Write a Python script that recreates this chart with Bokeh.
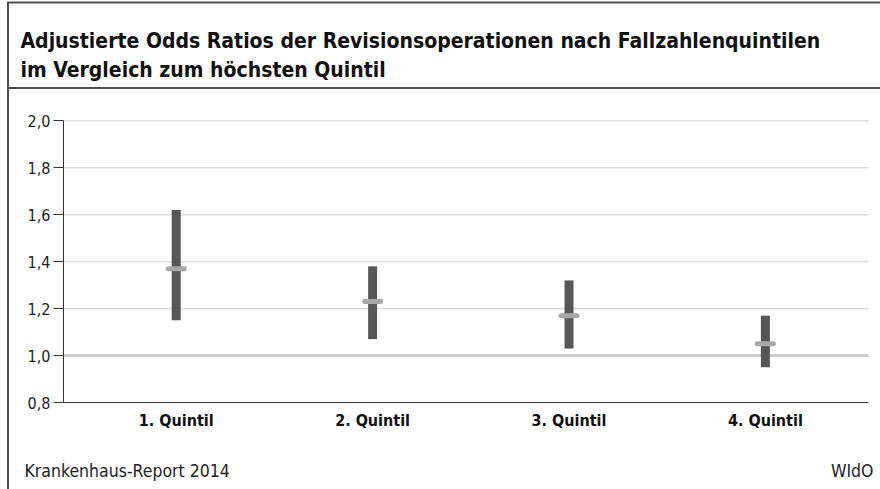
from bokeh.plotting import figure
from bokeh.models import Label, BoxAnnotation, FixedTicker, LinearAxis, Range1d
from bokeh.embed import file_html
from bokeh.resources import INLINE

# ---- data ----
categories = ["1. Quintil", "2. Quintil", "3. Quintil", "4. Quintil"]
positions = [1, 2, 3, 4]
odds_ratio = [1.37, 1.23, 1.17, 1.05]
ci_lower = [1.15, 1.07, 1.03, 0.95]
ci_upper = [1.62, 1.38, 1.32, 1.17]
y_ticks = [0.8, 1.0, 1.2, 1.4, 1.6, 1.8, 2.0]
y_tick_labels = ["0,8", "1,0", "1,2", "1,4", "1,6", "1,8", "2,0"]
reference_value = 1.0
title_lines = ["Adjustierte Odds Ratios der Revisionsoperationen nach Fallzahlenquintilen",
               "im Vergleich zum höchsten Quintil"]
source_text = "Krankenhaus-Report 2014"
publisher_text = "WIdO"

FONT = "'DejaVu Sans Condensed', 'Liberation Sans Narrow', sans-serif"
W, H = 880, 489

# the frame covers the whole canvas; the chart area is placed with axes at fixed locations
PX_X = 196.4            # pixels per category step
PX_Y = 234.75           # pixels per unit of odds ratio
X0 = 1 - 175.7 / PX_X   # data x at the left canvas edge
Y0 = 0.8 - 87 / PX_Y    # data y at the bottom canvas edge
AX_LEFT = X0 + 63 / PX_X
AX_RIGHT = X0 + 868 / PX_X
Y_MIN, Y_MAX = y_ticks[0], y_ticks[-1]

p = figure(width=W, height=H, output_backend="svg", toolbar_location=None,
           x_axis_type=None, y_axis_type=None,
           x_range=Range1d(X0, X0 + W / PX_X), y_range=Range1d(Y0, Y0 + H / PX_Y),
           min_border=0)
p.outline_line_color = None
p.background_fill_color = "white"
p.border_fill_color = "white"
p.grid.visible = False

# grid lines (drawn across the chart area only)
grid_y = [t for t in y_ticks if t not in (Y_MIN, reference_value)]
p.segment(x0=[AX_LEFT] * len(grid_y), x1=[AX_RIGHT] * len(grid_y), y0=grid_y, y1=grid_y,
          line_color="#dcdcdc", line_width=1.5)
p.segment(x0=[AX_LEFT], x1=[AX_RIGHT], y0=[reference_value], y1=[reference_value],
          line_color="#cfcfcf", line_width=3)

# axes
yaxis = LinearAxis(fixed_location=AX_LEFT, bounds=(Y_MIN, Y_MAX), ticker=FixedTicker(ticks=y_ticks))
yaxis.major_label_overrides = dict(zip(y_ticks, y_tick_labels))
yaxis.minor_tick_line_color = None
yaxis.major_tick_in = 0
yaxis.major_tick_out = 10
yaxis.major_tick_line_color = "#333333"
yaxis.axis_line_color = "#333333"
yaxis.major_label_standoff = 3
yaxis.major_label_text_font = FONT
yaxis.major_label_text_font_size = "16px"
yaxis.major_label_text_color = "#222222"
p.add_layout(yaxis, "left")

xaxis = LinearAxis(fixed_location=Y_MIN, bounds=(AX_LEFT, AX_RIGHT), ticker=FixedTicker(ticks=positions))
xaxis.major_label_overrides = dict(zip(positions, categories))
xaxis.minor_tick_line_color = None
xaxis.major_tick_line_color = None
xaxis.axis_line_color = "#333333"
xaxis.major_label_standoff = 2
xaxis.major_label_text_font = FONT
xaxis.major_label_text_font_style = "bold"
xaxis.major_label_text_font_size = "16px"
xaxis.major_label_text_color = "#111111"
p.add_layout(xaxis, "below")

# bars and markers
p.vbar(x=positions, bottom=ci_lower, top=ci_upper, width=9 / PX_X, fill_color="#575757", line_color=None)
p.scatter(x=positions, y=odds_ratio, marker="dash", size=16, line_width=5, line_cap="round",
          line_color="#a8a8a8", fill_color=None)

# frame decorations (screen units; frame == canvas, y measured from the bottom)
def box(l, r, b, t):
    p.add_layout(BoxAnnotation(left=l, right=r, bottom=b, top=t, left_units="screen", right_units="screen",
                               bottom_units="screen", top_units="screen", fill_color="#4d4d4d",
                               fill_alpha=1, line_color=None, level="overlay"))

box(6.5, 8.5, 0, H - 2)           # left border
box(6.5, W, H - 3, H - 1)         # top border
box(6.5, W, H - 88.5, H - 86.5)   # separator below the title

# texts
for i, t in enumerate(title_lines):
    p.add_layout(Label(x=20, y=H - 40 - 29 * i, x_units="screen", y_units="screen", text=t,
                       text_font=FONT, text_font_style="bold", text_font_size="21px",
                       text_color="#111111", text_baseline="middle"))
p.add_layout(Label(x=24, y=H - 470, x_units="screen", y_units="screen", text=source_text,
                   text_font=FONT, text_font_size="17.5px", text_color="#222222", text_baseline="middle"))
p.add_layout(Label(x=873, y=H - 470, x_units="screen", y_units="screen", text=publisher_text,
                   text_font=FONT, text_font_size="17.5px", text_color="#222222", text_baseline="middle",
                   text_align="right"))

open("out.html", "w").write(file_html(p, INLINE))
